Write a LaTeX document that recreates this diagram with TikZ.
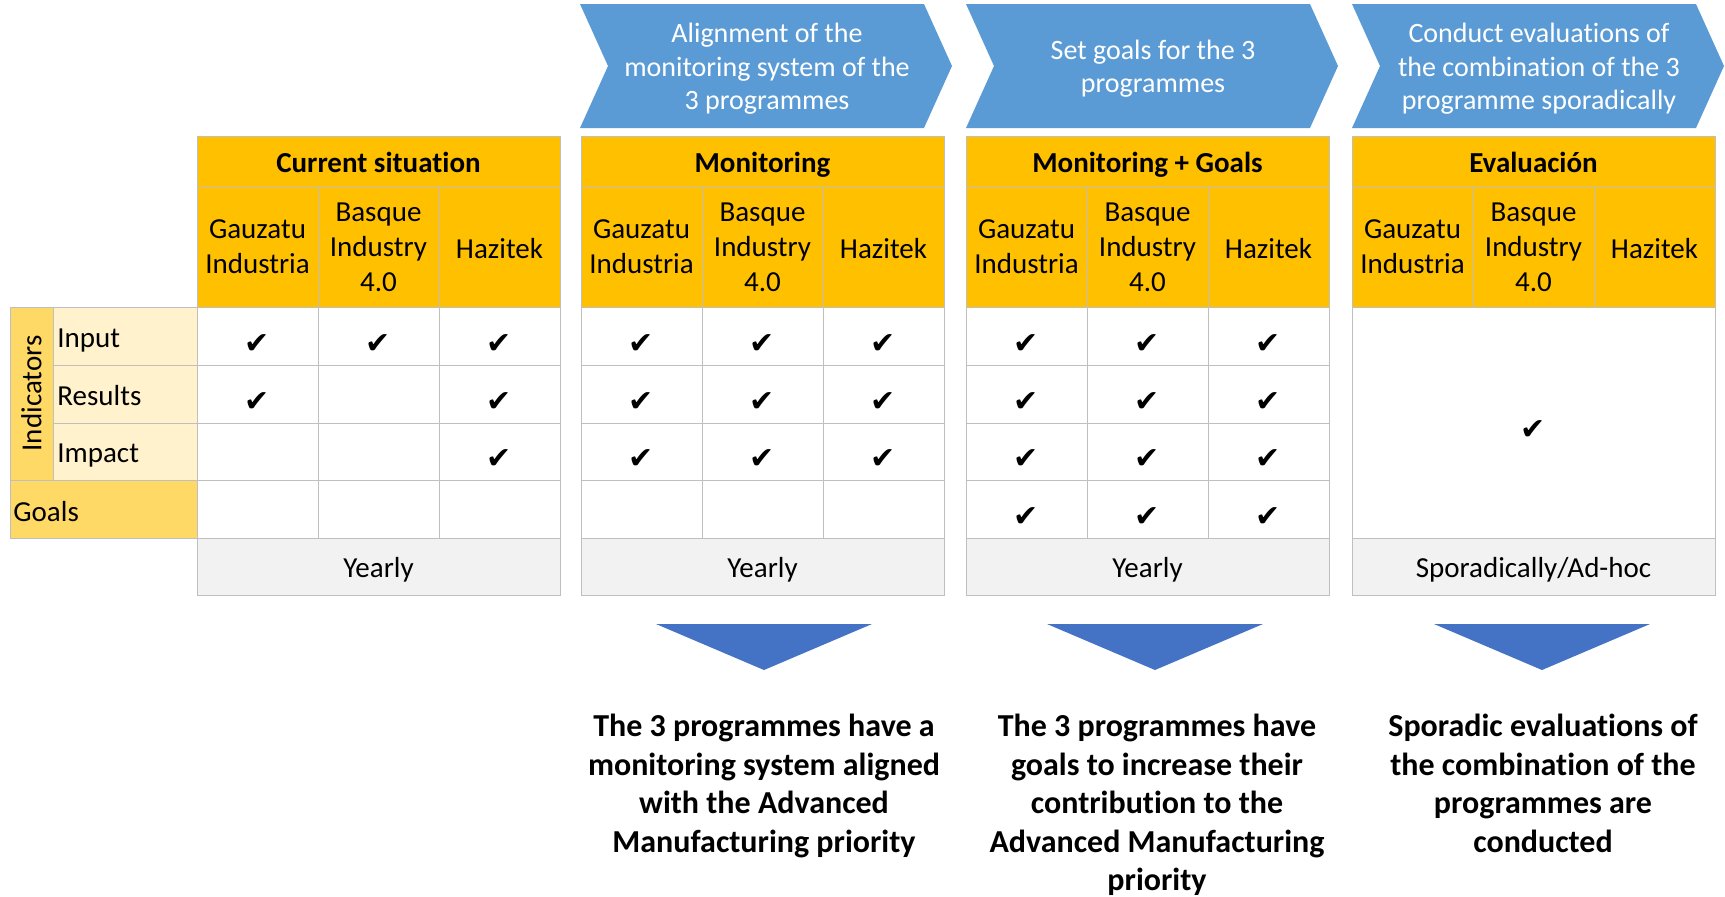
\documentclass[tikz,border=0pt]{standalone}
\usepackage{fontspec}
\setmainfont{Carlito}[Ligatures=NoCommon]
\newfontfamily\symfont{DejaVu Sans}
\definecolor{hdr}{HTML}{FFC000}
\definecolor{gold}{HTML}{FFD966}
\definecolor{pale}{HTML}{FFF2CC}
\definecolor{greyc}{HTML}{F2F2F2}
\definecolor{gridc}{HTML}{BFBFBF}
\definecolor{chev}{HTML}{5B9BD5}
\definecolor{tri}{HTML}{4472C4}
\begin{document}
\begin{tikzpicture}[x=0.5pt,y=-0.5pt,
  cellbox/.style={draw=gridc, line width=0.5pt, inner sep=0pt, outer sep=0pt, align=center,
    font=\fontsize{14.5}{17.5}\selectfont, text=black, execute at begin node={\rule{0pt}{11.6pt}}},
  hdrcell/.style={cellbox, fill=hdr},
  wcell/.style={cellbox, fill=white},
  gcell/.style={cellbox, fill=greyc},
  chk/.style={font=\symfont\fontsize{15}{15}\selectfont, inner sep=0pt},
  chevtxt/.style={text=white, align=center, font=\fontsize{14}{16.8}\selectfont, inner sep=0pt},
  outtxt/.style={align=center, font=\bfseries\fontsize{16}{19.25}\selectfont, inner sep=0pt, anchor=north},
  lbl/.style={anchor=west, inner sep=0pt, font=\fontsize{14.5}{17.5}\selectfont}
]
\useasboundingbox (0,0) rectangle (1725,896);

% chevrons
\foreach \i/\X in {2/580,3/966,4/1352}{
  \fill[chev] (\X,4) -- (\X+344,4) -- (\X+372,66) -- (\X+344,128) -- (\X,128) -- (\X+28,66) -- cycle;
}
\node[chevtxt] (ch2) at (767,69) {Alignment of the\\monitoring system of the\\3 programmes};
\node[chevtxt] (ch3) at (1153,68.5) {Set goals for the 3\\programmes};
\node[chevtxt] (ch4) at (1539,69) {Conduct evaluations of\\the combination of the 3\\programme sporadically};

% tables
\foreach \i/\L/\H/\F in {1/197/{Current situation}/Yearly,2/581/{Monitoring}/Yearly,3/966/{Monitoring + Goals}/Yearly,4/1352/{Evaluación}/{Sporadically/Ad-hoc}}{
  \node[hdrcell, minimum width=363*0.5pt, minimum height=51*0.5pt] (h\i) at (\L+181.5,161.5) {\rule[-3.5pt]{0pt}{18.4pt}\textbf{\H}};
  \node[hdrcell, minimum width=121*0.5pt, minimum height=120*0.5pt] (sa\i) at (\L+60.5,247) {Gauzatu\\Industria};
  \node[hdrcell, minimum width=121*0.5pt, minimum height=120*0.5pt] (sb\i) at (\L+181.5,247) {Basque\\Industry\\4.0};
  \node[hdrcell, minimum width=121*0.5pt, minimum height=120*0.5pt] (sc\i) at (\L+302.5,247) {Hazitek};
  \node[gcell, minimum width=363*0.5pt, minimum height=57*0.5pt] (y\i) at (\L+181.5,566.5) {\rule{0pt}{13.8pt}\F};
}
\foreach \i/\L in {1/197,2/581,3/966}{
  \foreach \r/\yc/\hh in {1/336/58,2/394/58,3/451.5/57,4/509/58}{
    \foreach \c in {1,2,3}{
      \node[wcell, minimum width=121*0.5pt, minimum height=\hh*0.5pt] (c\i-\r-\c) at (\L+121*\c-60.5,\yc) {};
    }
  }
}
\node[wcell, minimum width=363*0.5pt, minimum height=231*0.5pt] (m4) at (1533.5,422.5) {};

% left labels
\node[cellbox, fill=gold, minimum width=43*0.5pt, minimum height=173*0.5pt] (ind) at (31.5,393.5) {};
\node[rotate=90, inner sep=0pt, font=\fontsize{14.5}{17.5}\selectfont] (indt) at (ind.center) {Indicators};
\node[cellbox, fill=pale, minimum width=144*0.5pt, minimum height=58*0.5pt] (lin) at (125,336) {};
\node[cellbox, fill=pale, minimum width=144*0.5pt, minimum height=58*0.5pt] (lre) at (125,394) {};
\node[cellbox, fill=pale, minimum width=144*0.5pt, minimum height=57*0.5pt] (lim) at (125,451.5) {};
\node[cellbox, fill=gold, minimum width=187*0.5pt, minimum height=58*0.5pt] (lgo) at (103.5,509) {};
\node[lbl] (tin) at (57,340.5) {Input};
\node[lbl] (tre) at (57,396) {Results};
\node[lbl] (tim) at (57,455.5) {Impact};
\node[lbl] (tgo) at (13,511.5) {Goals};

% checks
\foreach \i/\r/\c in {1/1/1,1/1/2,1/1/3,1/2/1,1/2/3,1/3/3,
  2/1/1,2/1/2,2/1/3,2/2/1,2/2/2,2/2/3,2/3/1,2/3/2,2/3/3,
  3/1/1,3/1/2,3/1/3,3/2/1,3/2/2,3/2/3,3/3/1,3/3/2,3/3/3,3/4/1,3/4/2,3/4/3}{
  \node[chk] (k\i-\r-\c) at ([yshift=-3.8pt]c\i-\r-\c.center) {✔};
}
\node[chk] (k4) at ([yshift=-4pt]m4.center) {✔};

% triangles
\foreach \cx in {764,1155,1542}{
  \fill[tri] (\cx-108,624) -- (\cx+108,624) -- (\cx,670) -- cycle;
}
\node[outtxt] (o2) at (764,714) {The 3 programmes have a\\monitoring system aligned\\with the Advanced\\Manufacturing priority};
\node[outtxt] (o3) at (1157,714) {The 3 programmes have\\goals to increase their\\contribution to the\\Advanced Manufacturing\\priority};
\node[outtxt] (o4) at (1543,714) {Sporadic evaluations of\\the combination of the\\programmes are\\conducted};
\end{tikzpicture}
\end{document}
